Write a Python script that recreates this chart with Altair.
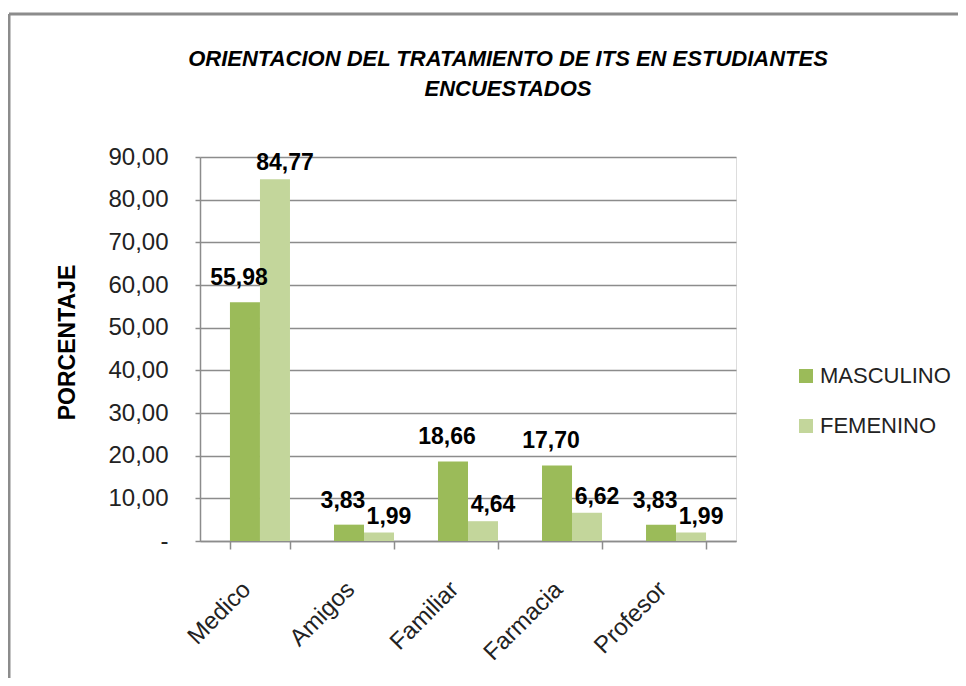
import altair as alt
import pandas as pd

categories = ["Medico", "Amigos", "Familiar", "Farmacia", "Profesor"]
masculino = [55.98, 3.83, 18.66, 17.70, 3.83]
femenino = [84.77, 1.99, 4.64, 6.62, 1.99]
series = ["MASCULINO", "FEMENINO"]
colors = ["#9BBB59", "#C3D69B"]
y_ticks = [0, 10, 20, 30, 40, 50, 60, 70, 80, 90]
title_lines = ["ORIENTACION DEL TRATAMIENTO DE ITS EN ESTUDIANTES", "ENCUESTADOS"]
y_title = "PORCENTAJE"

rows = []
for c, m, f in zip(categories, masculino, femenino):
    rows.append({"cat": c, "serie": series[0], "valor": m})
    rows.append({"cat": c, "serie": series[1], "valor": f})
df = pd.DataFrame(rows)

FONT = "Liberation Sans"
GRAY = "#8c8c8c"
W, H = 536, 384

x_enc = alt.X(
    "cat:N",
    sort=categories,
    scale=alt.Scale(paddingInner=0.423, paddingOuter=0.288),
    axis=alt.Axis(
        title=None,
        labelAngle=-45,
        labelFontSize=24,
        labelFont=FONT,
        labelColor="#222222",
        labelOffset=-22,
        labelPadding=28,
        tickBand="extent",
        tickSize=8,
        tickColor=GRAY,
        tickWidth=1.5,
        domainColor=GRAY,
        domainWidth=1.5,
        grid=False,
    ),
)
xoff = alt.XOffset("serie:N", sort=series)
y_enc = alt.Y(
    "valor:Q",
    scale=alt.Scale(domain=[0, 90], nice=False),
    axis=alt.Axis(
        title=y_title,
        titleFont=FONT,
        titleFontSize=23,
        titleFontWeight="bold",
        titleColor="#000000",
        titleX=-126,
        titleY=185,
        titleBaseline="alphabetic",
        values=y_ticks,
        labelExpr="datum.value == 0 ? '-' : replace(format(datum.value, '.2f'), '.', ',')",
        labelFont=FONT,
        labelFontSize=24,
        labelColor="#222222",
        labelPadding=27,
        tickSize=5,
        tickColor=GRAY,
        tickWidth=1.5,
        domainColor=GRAY,
        domainWidth=1.5,
        gridColor=GRAY,
        gridWidth=1.5,
    ),
)

bars = alt.Chart(df).mark_bar().encode(
    x=x_enc,
    xOffset=xoff,
    y=y_enc,
    color=alt.Color(
        "serie:N",
        sort=series,
        scale=alt.Scale(domain=series, range=colors),
        legend=alt.Legend(
            title=None,
            orient="none",
            legendX=595,
            legendY=208,
            symbolType="square",
            symbolSize=196,
            symbolStrokeWidth=0,
            labelFont=FONT,
            labelFontSize=22,
            labelColor="#222222",
            labelOffset=3,
            rowPadding=28,
            padding=0,
        ),
    ),
)

lbl_expr = "replace(format(datum.valor, '.2f'), '.', ',')"
label_masc = (
    alt.Chart(df)
    .transform_filter(alt.datum.serie == series[0])
    .transform_calculate(lbl=lbl_expr)
    .mark_text(font=FONT, fontSize=23, fontWeight="bold", color="#000000",
               baseline="bottom", dy=-12, dx=-6)
    .encode(x=alt.X("cat:N", sort=categories), xOffset=xoff, y=alt.Y("valor:Q"), text="lbl:N")
)
label_fem = (
    alt.Chart(df)
    .transform_filter(alt.datum.serie == series[1])
    .transform_calculate(lbl=lbl_expr)
    .mark_text(font=FONT, fontSize=23, fontWeight="bold", color="#000000",
               baseline="bottom", dy=-4, dx=10)
    .encode(x=alt.X("cat:N", sort=categories), xOffset=xoff, y=alt.Y("valor:Q"), text="lbl:N")
)

frame_data = pd.DataFrame({"k": [0]})
frame_top = alt.Chart(frame_data).mark_rule(color=GRAY, strokeWidth=3).encode(
    x=alt.value(-191), x2=alt.value(770), y=alt.value(-143)
)
frame_left = alt.Chart(frame_data).mark_rule(color=GRAY, strokeWidth=3).encode(
    x=alt.value(-191), y=alt.value(-143), y2=alt.value(540)
)

chart = (
    alt.layer(frame_top, frame_left, bars, label_masc, label_fem)
    .properties(
        width=W,
        height=H,
        autosize=alt.AutoSizeParams(type="none"),
        padding={"left": 192, "top": 149, "right": 222, "bottom": 137},
        title=alt.TitleParams(
            text=title_lines,
            font=FONT,
            fontSize=22,
            fontWeight="bold",
            fontStyle="italic",
            color="#000000",
            anchor="middle",
            baseline="bottom",
            dx=40,
            offset=-110,
            lineHeight=30,
        ),
    )
    .configure_view(stroke=None)
    .configure(background="white")
)

chart.save("out.html", embed_options={"renderer": "svg", "actions": False})
